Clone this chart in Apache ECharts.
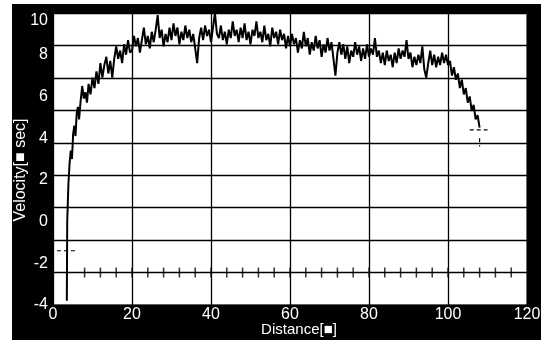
<!DOCTYPE html>
<html>
<head>
<meta charset="utf-8">
<script src="https://cdn.jsdelivr.net/npm/echarts@6/dist/echarts.min.js"></script>
<style>
html,body{margin:0;padding:0;background:#fff;}
#frame{position:absolute;left:12px;top:4px;width:529px;height:336px;background:#000;}
#chart{position:absolute;left:0;top:0;width:541px;height:342px;}
</style>
</head>
<body>
<div id="frame"></div>
<div id="chart"></div>
<script>
// ---- data ----
const distance = [
3.5,3.6,3.9,4.2,4.5,4.8,5.1,5.4,5.7,6.0,6.3,6.6,7.0,7.4,7.8,8.2,8.6,9.0,9.5,10.0,
10.5,11.0,11.5,12.0,12.5,13.0,13.5,14.0,14.5,15.0,15.5,16.0,16.5,17.0,17.5,18.0,18.5,19.0,19.5,
20.0,20.5,21.0,21.5,22.0,22.5,23.0,23.5,24.0,24.5,25.0,25.5,26.0,26.5,27.0,27.5,28.0,28.5,29.0,29.5,
30.0,30.5,31.0,31.5,32.0,32.5,33.0,33.5,34.0,34.5,35.0,35.5,36.0,36.5,37.0,37.5,38.0,38.5,39.0,39.5,
40.0,40.5,41.0,41.5,42.0,42.5,43.0,43.5,44.0,44.5,45.0,45.5,46.0,46.5,47.0,47.5,48.0,48.5,49.0,49.5,
50.0,50.5,51.0,51.5,52.0,52.5,53.0,53.5,54.0,54.5,55.0,55.5,56.0,56.5,57.0,57.5,58.0,58.5,59.0,59.5,
60.0,60.5,61.0,61.5,62.0,62.5,63.0,63.5,64.0,64.5,65.0,65.5,66.0,66.5,67.0,67.5,68.0,68.5,69.0,69.5,
70.0,70.5,71.0,71.5,72.0,72.5,73.0,73.5,74.0,74.5,75.0,75.5,76.0,76.5,77.0,77.5,78.0,78.5,79.0,79.5,
80.0,80.5,81.0,81.5,82.0,82.5,83.0,83.5,84.0,84.5,85.0,85.5,86.0,86.5,87.0,87.5,88.0,88.5,89.0,89.5,
90.0,90.5,91.0,91.5,92.0,92.5,93.0,93.5,94.0,94.5,95.0,95.5,96.0,96.5,97.0,97.5,98.0,98.5,99.0,99.5,
100.0,100.5,101.0,101.5,102.0,102.5,103.0,103.5,104.0,104.5,105.0,105.5,106.0,106.5,107.0,107.5,108.0
];
const velocity = [
-3.8,0.0,1.8,2.8,3.4,3.0,4.2,4.6,4.1,5.2,5.5,4.9,5.8,6.5,5.9,6.2,5.7,6.6,6.1,6.9,
6.4,7.2,6.6,7.6,6.9,7.5,7.9,7.1,7.7,6.9,7.8,8.4,7.8,8.2,7.6,8.5,8.0,8.7,8.1,
8.2,8.9,8.4,8.8,8.1,8.7,9.3,8.5,8.9,8.3,9.1,8.6,9.2,9.9,8.8,9.2,8.4,9.0,8.6,9.3,
8.7,9.5,8.9,9.3,8.5,9.1,8.7,9.4,8.8,9.2,8.6,9.0,8.3,7.6,8.8,9.3,8.7,9.4,8.9,9.2,
8.6,9.3,10.0,9.0,8.8,9.4,8.7,9.1,8.5,9.2,8.8,9.6,8.9,9.2,8.6,9.3,8.8,9.5,8.7,9.1,
8.5,9.2,8.9,9.6,8.8,9.1,8.6,9.4,8.7,9.0,8.4,9.3,8.8,9.1,8.5,9.2,8.7,9.0,8.3,8.9,
8.4,9.0,8.5,8.8,8.1,8.7,8.3,9.1,8.4,8.8,8.0,8.6,8.2,8.9,8.3,8.7,7.9,8.5,8.1,8.8,
8.2,8.6,7.8,7.0,8.1,8.6,8.0,8.5,7.8,8.4,7.6,8.2,7.9,8.6,8.0,8.4,7.7,8.3,7.8,8.5,
7.9,8.3,8.0,8.8,7.9,8.2,7.6,8.1,7.5,8.2,7.7,8.0,7.4,8.1,7.6,8.3,7.8,8.2,7.9,8.7,
7.8,8.1,7.4,7.9,7.5,8.0,7.6,8.4,7.3,6.9,7.6,8.2,7.5,8.0,7.4,7.9,7.5,8.1,7.6,8.0,
7.5,7.7,7.0,7.4,6.8,7.1,6.4,6.8,6.1,6.4,5.7,6.0,5.3,5.6,4.9,5.1,4.5
];
const tickDistances = [8,12,16,20,24,28,32,36,40,44,48,52,56,60,64,68,72,76,80,84,88,92,96,100,104,108,112,116];
const startCursor = [[1.0,-1.4],[5.6,-1.4]];
const endCursor = [[105.5,4.4],[110.0,4.4],null,[108.0,4.0],[108.0,3.6]];
const xTicks = {min:0,max:120,step:20};
const yTicks = {min:-4,max:10,step:2};

// ---- chart ----
const chart = echarts.init(document.getElementById('chart'), null, {renderer:'canvas'});
const font = 'Liberation Sans, Arial, sans-serif';
const curve = distance.map((d,i)=>[d, velocity[i]]);
chart.setOption({
  backgroundColor:'transparent',
  animation:false,
  grid:{left:53,right:14,top:13,bottom:37,show:true,backgroundColor:'#fff',borderColor:'#000',borderWidth:1,
        containLabel:false,outerBoundsMode:'none'},
  xAxis:{
    type:'value',min:xTicks.min,max:xTicks.max,interval:xTicks.step,
    name:'Distance[■]',nameLocation:'middle',nameGap:17,nameMoveOverlap:false,
    nameTextStyle:{color:'#fff',fontSize:15,fontFamily:font,padding:[0,0,0,18]},
    axisLine:{show:false},axisTick:{show:false},
    axisLabel:{color:'#fff',fontSize:16,fontFamily:font,margin:2},
    splitLine:{show:true,lineStyle:{color:'#000',width:1.3}}
  },
  yAxis:[{
    type:'value',min:yTicks.min,max:yTicks.max,interval:yTicks.step,
    name:'Velocity[■ sec]',nameLocation:'middle',nameRotate:90,nameGap:24,nameMoveOverlap:false,
    nameTextStyle:{color:'#fff',fontSize:16,fontFamily:font,padding:[0,0,0,-22]},
    axisLine:{show:false},axisTick:{show:false},
    axisLabel:{color:'#fff',fontSize:16,fontFamily:font,margin:5,
      formatter:v=> v===yTicks.max ? '{t|'+v+'}' : String(v),
      rich:{t:{color:'#fff',fontSize:16,fontFamily:font,padding:[16,0,0,0]}}},
    splitLine:{show:false}
  },{
    type:'value',min:0,max:9,interval:1,position:'left',
    axisLine:{show:false},axisTick:{show:false},axisLabel:{show:false},
    splitLine:{show:true,lineStyle:{color:'#000',width:1.3}}
  }],
  series:[
    {type:'line',data:curve,showSymbol:false,symbol:'none',lineStyle:{color:'#000',width:2},z:5},
    {type:'scatter',yAxisIndex:1,data:tickDistances.map(d=>[d,1]),symbol:'rect',symbolSize:[1.5,10],itemStyle:{color:'#000'},z:4},
    {type:'line',data:startCursor,symbol:'none',lineStyle:{color:'#000',width:1.2,type:[4,3]},z:6},
    {type:'line',data:endCursor,symbol:'none',connectNulls:false,lineStyle:{color:'#000',width:1.2,type:[4,3]},z:6}
  ]
});
</script>
</body>
</html>
